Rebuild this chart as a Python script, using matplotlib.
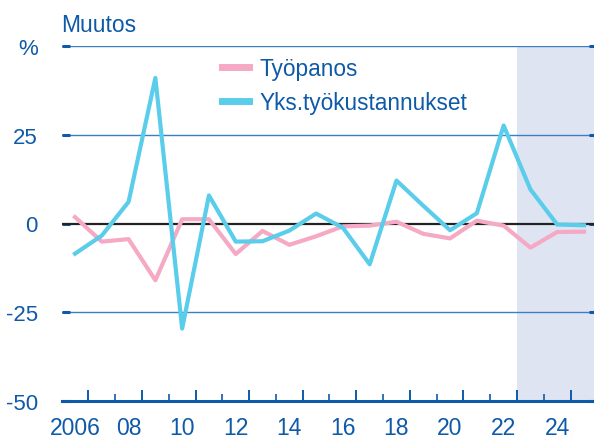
import matplotlib.pyplot as plt
from matplotlib.ticker import FixedLocator

plt.rcParams['font.family'] = ['Liberation Sans', 'DejaVu Sans']

# data (annual change, %)
years = list(range(2006, 2026))
tyopanos = [1.8, -5.1, -4.4, -16.0, 1.2, 1.2, -8.6, -2.1, -6.0, -3.6, -0.8, -0.6,
            0.5, -2.9, -4.2, 0.8, -0.6, -6.8, -2.4, -2.3]
yks_tyokust = [-8.5, -3.4, 6.1, 41.0, -29.6, 7.9, -5.1, -5.0, -2.0, 2.8, -1.2, -11.5,
               12.1, 5.0, -1.9, 2.9, 27.6, 9.6, -0.3, -0.5]
ennuste_alku = 2022.5
year_labels = ['2006', '08', '10', '12', '14', '16', '18', '20', '22', '24']
ytick_vals = [-50, -25, 0, 25, 50]
ytick_labels = ['-50', '-25', '0', '25', '%']

dark = '#0F5AA8'
grid_c = '#3D7EC0'

fig = plt.figure(figsize=(5.94, 4.39), dpi=100)
ax = fig.add_axes([61.6 / 594, 1 - 402 / 439, 535.8 / 594, (402 - 47) / 439])

ax.axvspan(ennuste_alku, 2025.5, color='#DFE4F2', zorder=0, lw=0)
for v in [-25, 25, 50]:
    ax.axhline(v, color=grid_c, lw=1.0, zorder=1)
ax.axhline(0, color='#222222', lw=1.6, zorder=2)

ax.plot(years, tyopanos, color='#F5A9C4', lw=3.0, label='Työpanos', zorder=3)
ax.plot(years, yks_tyokust, color='#5ACDEB', lw=3.0, label='Yks.työkustannukset', zorder=4)

ax.set_xlim(2005.5, 2025.5)
ax.set_ylim(-50, 50)

for s in ['left', 'right', 'top']:
    ax.spines[s].set_visible(False)
ax.spines['bottom'].set_color(dark)
ax.spines['bottom'].set_linewidth(2.2)

# year boundary ticks: long at even boundaries, short at odd
ax.xaxis.set_major_locator(FixedLocator([y + 0.5 for y in range(2006, 2025, 2)]))
ax.xaxis.set_minor_locator(FixedLocator([y + 0.5 for y in range(2007, 2025, 2)]))
ax.tick_params(axis='x', which='major', direction='in', length=8, width=1.4,
               color=dark, labelbottom=False)
ax.tick_params(axis='x', which='minor', direction='in', length=5, width=1.2,
               color=dark, labelbottom=False)

sec = ax.secondary_xaxis('bottom')
sec.set_xticks(years[::2], year_labels)
sec.tick_params(length=0, pad=11, labelsize=16.5, labelcolor=dark)
sec.spines['bottom'].set_visible(False)

ax.set_yticks(ytick_vals, ytick_labels)
ax.tick_params(axis='y', direction='in', length=6, width=2.2, color=dark,
               labelsize=16, labelcolor=dark, pad=17, right=True)

fig.text(61 / 594, 1 - 25 / 439, 'Muutos', color=dark, fontsize=16.5, va='center', ha='left')

leg = ax.legend(loc='upper left', bbox_to_anchor=(222 / 594, 1 - 58 / 439),
                bbox_transform=fig.transFigure, frameon=False, fontsize=16.3,
                handlelength=1.2, handletextpad=0.45, labelspacing=0.5,
                borderpad=0, borderaxespad=0)
for t in leg.get_texts():
    t.set_color(dark)
for h in leg.legend_handles:
    h.set_linewidth(5.0)

fig.savefig('out.png', dpi=100)
